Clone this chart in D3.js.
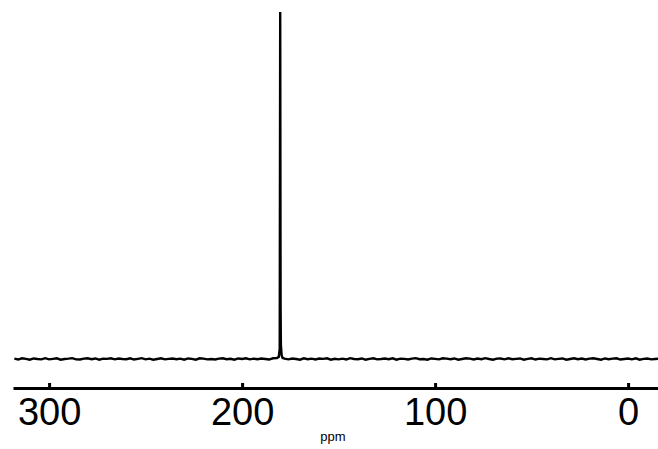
<!DOCTYPE html>
<html>
<head>
<meta charset="utf-8">
<script src="https://cdn.jsdelivr.net/npm/d3@7"></script>
<style>
  body { margin: 0; background: #fff; }
  svg { display: block; font-family: "Liberation Sans", Arial, sans-serif; }
</style>
</head>
<body>
<div id="chart"></div>
<script>
// spectrum points (ppm, relative intensity)
const baselinePpmLeft = [318,316,314,312,310,308,306,304,302,300,298,296,294,292,290,288,286,284,282,280,
  278,276,274,272,270,268,266,264,262,260,258,256,254,252,250,248,246,244,242,240,238,236,234,232,230,
  228,226,224,222,220,218,216,214,212,210,208,206,204,202,200,198,196,194,192,190,188,186,184,182];
const baselineIntLeft = [0.1,-0.15,0.2,0.05,-0.2,0.15,0.0,-0.1,0.25,-0.1,0.05,0.2,-0.2,0.0,0.1,0.25,-0.1,-0.15,0.1,0.2,
  -0.05,0.15,-0.2,0.1,0.05,0.2,-0.1,0.15,0.0,-0.05,0.2,-0.15,0.05,0.25,-0.1,0.1,-0.2,0.0,0.2,-0.1,0.05,0.15,-0.05,0.1,-0.2,
  0.15,0.05,-0.2,0.2,0.1,-0.1,0.0,-0.15,0.1,0.2,-0.05,0.05,-0.2,0.15,0.0,0.2,-0.1,0.1,-0.05,0.15,0.0,-0.15,0.2,0.3];
const peakPpm = [181.0, 180.5, 180.25, 180.05, 179.9, 179.5, 179.0];
const peakInt = [0.6, 3, 100, 15, 4, 1.0, 0.3];
const baselinePpmRight = [178,176,174,172,170,168,166,164,162,160,158,156,154,152,150,148,146,144,142,140,
  138,136,134,132,130,128,126,124,122,120,118,116,114,112,110,108,106,104,102,100,98,96,94,92,90,
  88,86,84,82,80,78,76,74,72,70,68,66,64,62,60,58,56,54,52,50,48,46,44,42,40,38,36,34,32,30,
  28,26,24,22,20,18,16,14,12,10,8,6,4,2,0,-2,-4,-6,-8,-10,-12,-14,-16];
const baselineIntRight = [0.1,-0.1,0.15,0.0,-0.2,0.2,-0.05,0.1,-0.15,0.15,0.05,0.2,-0.2,0.05,-0.1,0.1,-0.15,0.25,0.0,-0.05,
  0.15,-0.2,0.05,0.2,-0.1,0.0,0.15,-0.05,0.2,-0.2,0.1,0.05,-0.15,0.1,0.25,-0.05,0.0,-0.2,0.15,0.05,-0.1,0.2,0.1,-0.05,0.15,
  -0.2,0.0,0.2,0.1,-0.15,0.15,-0.05,0.25,0.0,-0.2,0.1,0.15,-0.1,0.2,-0.05,0.05,0.15,-0.2,0.05,0.2,-0.15,0.1,0.0,-0.1,0.25,-0.1,0.05,0.15,-0.2,0.0,
  0.2,-0.05,0.15,-0.15,0.1,0.2,0.0,-0.2,0.15,-0.05,0.1,0.2,-0.15,0.0,0.15,-0.1,0.2,-0.2,0.05,0.15,-0.1,0.0,0.1];

const tickValues = [300, 200, 100, 0];
const axisTitle = 'ppm';

const width = 658, height = 449;

const spectrum = []
  .concat(baselinePpmLeft.map((p, i) => ({ ppm: p, v: baselineIntLeft[i] })))
  .concat(peakPpm.map((p, i) => ({ ppm: p, v: peakInt[i] })))
  .concat(baselinePpmRight.map((p, i) => ({ ppm: p, v: baselineIntRight[i] })));

const svg = d3.select('#chart').append('svg')
  .attr('width', width)
  .attr('height', height);

// reversed ppm axis, as usual for NMR
const x = d3.scaleLinear().domain([318.7, -15.5]).range([13, 658]);
const y = d3.scaleLinear().domain([0, 100]).range([359, 12]);

const line = d3.line()
  .x(d => x(d.ppm))
  .y(d => y(d.v));

svg.append('path')
  .datum(spectrum)
  .attr('d', line)
  .attr('fill', 'none')
  .attr('stroke', '#000')
  .attr('stroke-width', 2.4)
  .attr('stroke-linejoin', 'miter');

// bottom axis: thick line, short ticks pointing up
const axis = d3.axisBottom(x)
  .tickValues(tickValues)
  .tickSizeInner(-5)
  .tickSizeOuter(0)
  .tickPadding(12);

const gAxis = svg.append('g')
  .attr('transform', 'translate(0,388)')
  .call(axis);

gAxis.select('.domain')
  .attr('stroke', '#000')
  .attr('stroke-width', 3);

gAxis.selectAll('.tick line')
  .attr('stroke', '#000')
  .attr('stroke-width', 3);

gAxis.selectAll('.tick text')
  .attr('fill', '#000')
  .attr('font-size', 38)
  .attr('font-family', '"Liberation Sans", Arial, sans-serif')
  .attr('dy', null)
  .attr('y', 37);

svg.append('text')
  .attr('x', 333)
  .attr('y', 441)
  .attr('text-anchor', 'middle')
  .attr('font-size', 13)
  .attr('fill', '#000')
  .text(axisTitle);
</script>
</body>
</html>
